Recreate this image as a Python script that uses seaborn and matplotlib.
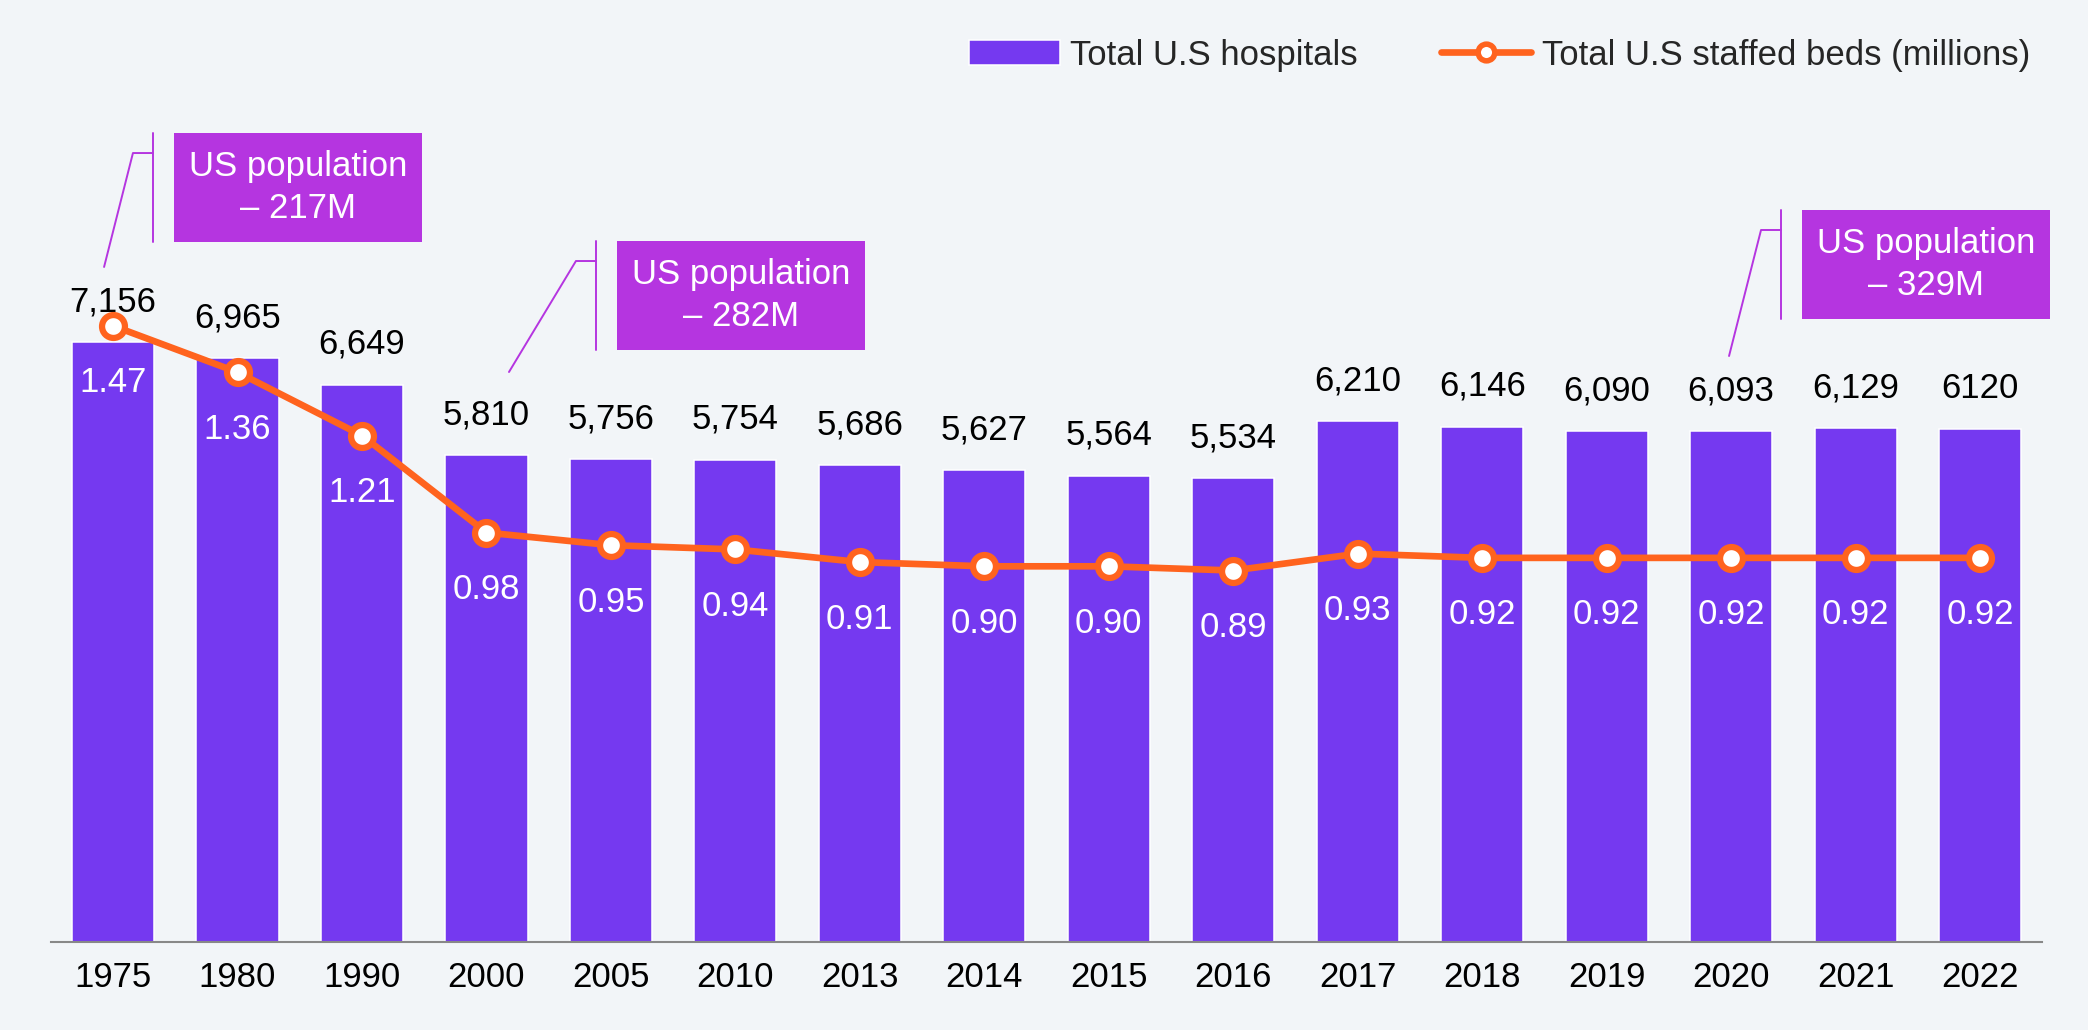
# US hospitals vs staffed beds - bar + line combo

import numpy as np
import matplotlib
matplotlib.use("Agg")
import matplotlib.pyplot as plt
import seaborn as sns
from matplotlib.patches import Rectangle, Patch
from matplotlib.lines import Line2D

# ==========================================
# Data
# ==========================================

years = ["1975", "1980", "1990", "2000", "2005", "2010", "2013", "2014",
         "2015", "2016", "2017", "2018", "2019", "2020", "2021", "2022"]

hospitals = [7156, 6965, 6649, 5810, 5756, 5754, 5686, 5627,
             5564, 5534, 6210, 6146, 6090, 6093, 6129, 6120]

hospital_labels = ["7,156", "6,965", "6,649", "5,810", "5,756", "5,754", "5,686", "5,627",
                   "5,564", "5,534", "6,210", "6,146", "6,090", "6,093", "6,129", "6120"]

beds = [1.47, 1.36, 1.21, 0.98, 0.95, 0.94, 0.91, 0.90,
        0.90, 0.89, 0.93, 0.92, 0.92, 0.92, 0.92, 0.92]

population_notes = ["US population\n\u2013 217M", "US population\n\u2013 282M", "US population\n\u2013 329M"]

# ==========================================
# Style
# ==========================================

bg = "#F2F5F8"
bar_color = "#7539F0"
line_color = "#FF631E"
box_color = "#B535E0"

sns.set_theme(style="white")
plt.rcParams["font.family"] = ["Liberation Sans", "DejaVu Sans"]

fs = 25

fig = plt.figure(figsize=(20.88, 10.30), dpi=100, facecolor=bg)
ax = fig.add_axes([0.02433, 0.08544, 0.9538, 0.8534])
ax.set_facecolor(bg)

# ==========================================
# Bars
# ==========================================

sns.barplot(
    x=years,
    y=hospitals,
    order=years,
    color=bar_color,
    saturation=1,
    width=0.66,
    edgecolor="white",
    linewidth=1.1,
    ax=ax
)

ax.set_xlim(-0.5, 15.5)
ax.set_ylim(0, 10485)
ax.set_xlabel("")
ax.set_ylabel("")
ax.set_yticks([])
ax.tick_params(axis="x", length=0, pad=14, labelsize=fs, colors="black")
for side in ["top", "right", "left"]:
    ax.spines[side].set_visible(False)
ax.spines["bottom"].set_color("#888888")
ax.spines["bottom"].set_linewidth(1.5)

for i, h in enumerate(hospitals):
    ax.annotate(hospital_labels[i], (i, h), xytext=(0, 29), textcoords="offset points",
                ha="center", va="center", fontsize=fs, color="black")

# ==========================================
# Line (secondary axis)
# ==========================================

ax2 = ax.twinx()
ax2.patch.set_visible(False)

sns.lineplot(
    x=np.arange(len(years)),
    y=beds,
    color=line_color,
    linewidth=4.8,
    marker="o",
    markersize=16.5,
    markerfacecolor="white",
    markeredgecolor=line_color,
    markeredgewidth=4.5,
    ax=ax2
)

ax2.set_ylim(0.0095, 2.093)
ax2.set_yticks([])
ax2.set_ylabel("")
for side in ["top", "right", "left", "bottom"]:
    ax2.spines[side].set_visible(False)

for i, b in enumerate(beds):
    ax2.annotate(f"{b:.2f}", (i, b), xytext=(0, -41), textcoords="offset points",
                 ha="center", va="center", fontsize=fs, color="white")

# ==========================================
# Population callouts
# ==========================================

callouts = [
    (0.490, 9650, -0.072, 8052),
    (4.049, 8362, 3.181, 6799),
    (13.570, 8732, 12.983, 6990),
]

box_w = 1.99
box_h = 1300

for (left, top, end_x, end_y), note in zip(callouts, population_notes):
    bracket_x = left - 0.169
    kink_x = bracket_x - 0.161
    kink_y = top - 239
    ax.add_patch(Rectangle((left, top - box_h), box_w, box_h, facecolor=box_color,
                           edgecolor="none", clip_on=False, zorder=5))
    ax.plot([bracket_x, bracket_x], [top, top - box_h], color=box_color, lw=1.4,
            clip_on=False, zorder=5)
    ax.plot([end_x, kink_x, bracket_x], [end_y, kink_y, kink_y], color=box_color, lw=1.4,
            clip_on=False, zorder=5)
    ax.text(left + box_w / 2, top - box_h / 2, note, ha="center", va="center",
            fontsize=fs, color="white", linespacing=1.32, zorder=6, clip_on=False)

# ==========================================
# Legend
# ==========================================

handles = [
    Patch(facecolor=bar_color, edgecolor="white", linewidth=1.1),
    Line2D([0], [0], color=line_color, lw=4.8, marker="o", markersize=12,
           markerfacecolor="white", markeredgecolor=line_color, markeredgewidth=4),
]
fig.legend(
    handles,
    ["Total U.S hospitals", "Total U.S staffed beds (millions)"],
    loc="center right",
    bbox_to_anchor=(2030 / 2088, 1 - 55 / 1030),
    ncol=2,
    frameon=False,
    fontsize=fs,
    handlelength=2.6,
    handletextpad=0.3,
    columnspacing=2.4,
    borderpad=0,
    borderaxespad=0
)

fig.savefig("out.png", dpi=100, facecolor=bg)
